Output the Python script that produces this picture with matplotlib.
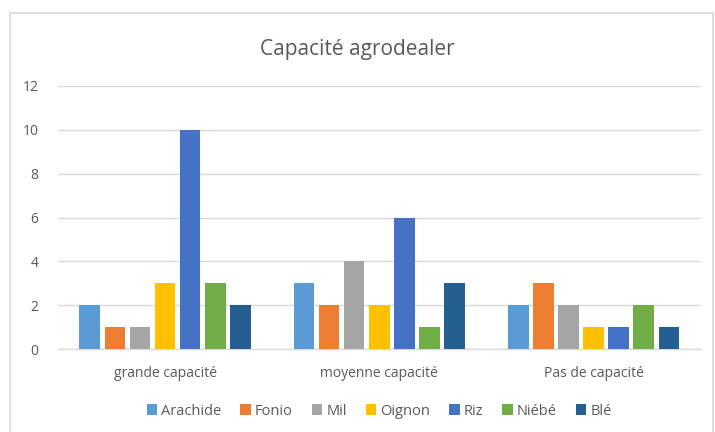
import numpy as np
import matplotlib
matplotlib.use("Agg")
import matplotlib.pyplot as plt
from matplotlib.patches import Rectangle

# --- data --------------------------------------------------------------------
categories = ["grande capacité", "moyenne capacité", "Pas de capacité"]
series = ["Arachide", "Fonio", "Mil", "Oignon", "Riz", "Niébé", "Blé"]
arachide = [2, 3, 2]
fonio = [1, 2, 3]
mil = [1, 4, 2]
oignon = [3, 2, 1]
riz = [10, 6, 1]
niebe = [3, 1, 2]
ble = [2, 3, 1]
values = [arachide, fonio, mil, oignon, riz, niebe, ble]
colors = ["#5B9BD5", "#ED7D31", "#A5A5A5", "#FFC000", "#4472C4", "#70AD47", "#255E91"]

TXT = "#595959"
plt.rcParams["font.family"] = ["Open Sans", "DejaVu Sans"]

fig = plt.figure(figsize=(7.15, 4.32), dpi=100)
ax = fig.add_axes([0.081, 0.192, 0.899, 0.609])

# chart border
fig.patches.append(Rectangle((10 / 715, -0.01), 703 / 715, 1 - 13 / 432 + 0.01,
                             transform=fig.transFigure, fill=False,
                             edgecolor="#D9D9D9", linewidth=1.2))

x = np.arange(len(categories))
pitch = 0.82 / len(series)
width = pitch * 0.82
for i, (name, vals, c) in enumerate(zip(series, values, colors)):
    offs = (i - (len(series) - 1) / 2) * pitch
    ax.bar(x + offs, vals, width, color=c, label=name, zorder=3)

ax.set_xlim(-0.5, 2.5)
ax.set_ylim(0, 12)
ax.set_yticks(range(0, 13, 2))
ax.set_xticks(x)
ax.set_xticklabels(categories)
ax.yaxis.grid(True, color="#D9D9D9", linewidth=1, zorder=0)
for s in ["top", "right", "left"]:
    ax.spines[s].set_visible(False)
ax.spines["bottom"].set_color("#D9D9D9")
ax.spines["bottom"].set_linewidth(1)
ax.tick_params(axis="both", length=0, colors=TXT, labelsize=10)
ax.tick_params(axis="x", pad=12)
ax.tick_params(axis="y", pad=14)

fig.suptitle("Capacité agrodealer", x=0.5, y=0.91, fontsize=15, color=TXT)

ax.legend(loc="center", bbox_to_anchor=(0.5, -0.236), ncol=7, frameon=False,
          fontsize=10.5, labelcolor=TXT, handlelength=0.7, handleheight=0.7,
          handletextpad=0.3, columnspacing=1.3)

fig.savefig("out.png", dpi=100)
